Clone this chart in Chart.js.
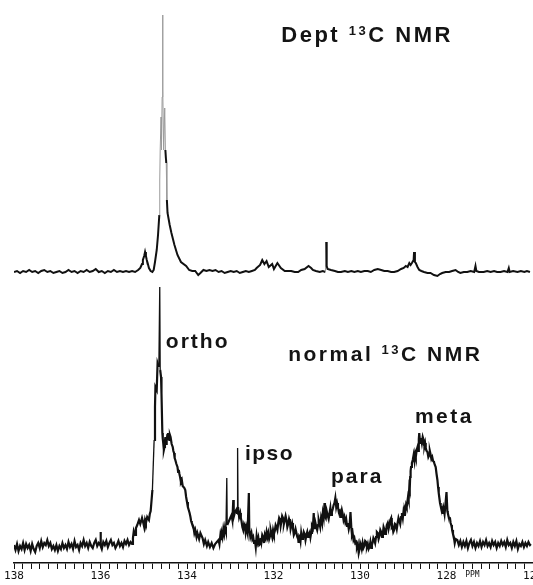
<!DOCTYPE html>
<html>
<head>
<meta charset="utf-8">
<script src="https://cdn.jsdelivr.net/npm/chart.js@4.4.0/dist/chart.umd.min.js"></script>
<style>
  html, body { margin: 0; padding: 0; background: #fff; }
  #wrap { width: 533px; height: 585px; position: relative; }
</style>
</head>
<body>
<div id="wrap"><canvas id="nmrChart"></canvas></div>
<script>
// readings: [ppm, intensity above baseline]
const normalSpectrum = [
  [138.000, 2], [137.965, -3], [137.930, 3], [137.895, -4], [137.860, 1], [137.825, -2], [137.790, 4], [137.755, -3],
  [137.720, 3], [137.685, -1], [137.650, 2], [137.615, -4], [137.580, 3], [137.545, -2], [137.510, -5], [137.475, 1],
  [137.440, 4], [137.405, -1], [137.370, 6], [137.335, 0], [137.300, 4], [137.265, 2], [137.230, 7], [137.195, 1],
  [137.160, 4], [137.125, -2], [137.090, 1], [137.055, -3], [137.020, 2], [136.985, -4], [136.950, 1], [136.915, -2],
  [136.880, 4], [136.845, -1], [136.810, 2], [136.775, -2], [136.740, 5], [136.705, 0], [136.670, 3], [136.635, -2],
  [136.600, 6], [136.565, 0], [136.530, 2], [136.495, -3], [136.460, 4], [136.425, 1], [136.390, 7], [136.355, 1],
  [136.320, 4], [136.285, -1], [136.250, 5], [136.215, 1], [136.180, -1], [136.145, 4], [136.110, 7], [136.075, 1],
  [136.040, 4], [136.010, 2], [136.000, 15], [135.990, 1], [135.970, -2], [135.935, 5], [135.900, 2], [135.865, 6],
  [135.830, 0], [135.795, 4], [135.760, 7], [135.725, 2], [135.690, 4], [135.655, -1], [135.620, 2], [135.585, 6],
  [135.550, 1], [135.515, 4], [135.480, 0], [135.445, 6], [135.410, 3], [135.375, 7], [135.340, 2], [135.305, 5],
  [135.270, 3], [135.250, 9], [135.230, 16], [135.200, 12], [135.180, 19], [135.150, 22], [135.110, 27], [135.080, 23],
  [135.040, 29], [135.010, 24], [134.990, 20], [134.970, 27], [134.950, 24], [134.920, 30], [134.880, 27], [134.860, 33],
  [134.840, 36], [134.80, 57], [134.76, 107], [134.74, 140], [134.73, 160], [134.70, 157], [134.68, 184], [134.65, 180],
  [134.63, 260], [134.62, 177], [134.60, 170], [134.59, 154], [134.57, 114], [134.56, 108], [134.55, 104], [134.535, 97],
  [134.52, 100], [134.51, 106], [134.50, 110], [134.485, 103], [134.47, 106], [134.455, 112], [134.44, 114], [134.425, 108],
  [134.41, 107], [134.395, 112], [134.38, 110], [134.355, 103], [134.33, 100], [134.315, 96], [134.30, 94], [134.285, 89],
  [134.27, 87], [134.245, 83], [134.22, 80], [134.205, 75], [134.19, 77], [134.175, 73], [134.16, 70], [134.14, 65],
  [134.12, 67], [134.10, 61], [134.08, 60], [134.06, 59], [134.04, 57], [134.02, 50], [134.00, 45], [133.98, 40],
  [133.96, 37], [133.94, 34], [133.92, 30], [133.905, 26], [133.89, 24], [133.87, 22], [133.85, 20], [133.83, 14],
  [133.81, 17], [133.78, 10], [133.76, 14], [133.72, 8], [133.69, 14], [133.64, 9], [133.61, 3], [133.58, 7],
  [133.54, 1], [133.51, 5], [133.47, 0], [133.43, 4], [133.39, -1], [133.35, 3], [133.31, 5], [133.27, 7],
  [133.25, 3], [133.23, 11], [133.215, 7], [133.20, 14], [133.18, 10], [133.16, 18], [133.14, 13], [133.12, 20],
  [133.10, 16], [133.08, 69], [133.07, 22], [133.04, 25], [133.00, 29], [132.97, 32], [132.95, 27], [132.93, 47],
  [132.92, 30], [132.89, 35], [132.85, 38], [132.84, 33], [132.83, 99], [132.82, 40], [132.795, 30], [132.77, 34],
  [132.755, 29], [132.74, 26], [132.72, 20], [132.70, 17], [132.68, 23], [132.66, 21], [132.645, 15], [132.63, 20],
  [132.60, 14], [132.57, 54], [132.56, 18], [132.535, 10], [132.51, 14], [132.49, 8], [132.47, 10], [132.45, 4],
  [132.43, 7], [132.41, 0], [132.39, 11], [132.37, 5], [132.35, 9], [132.33, 2], [132.31, 3], [132.295, 9],
  [132.28, 5], [132.26, 12], [132.24, 10], [132.22, 4], [132.20, 12], [132.18, 9], [132.16, 15], [132.14, 10],
  [132.12, 14], [132.10, 8], [132.08, 11], [132.065, 17], [132.05, 14], [132.03, 10], [132.01, 17], [131.99, 13],
  [131.97, 16], [131.95, 22], [131.93, 20], [131.91, 17], [131.89, 24], [131.87, 29], [131.85, 27], [131.835, 21],
  [131.82, 25], [131.80, 31], [131.78, 29], [131.76, 23], [131.74, 27], [131.72, 31], [131.70, 27], [131.68, 20],
  [131.66, 23], [131.64, 28], [131.62, 25], [131.605, 18], [131.59, 21], [131.57, 24], [131.55, 19], [131.53, 12],
  [131.51, 14], [131.49, 18], [131.47, 14], [131.45, 10], [131.43, 8], [131.42, 4], [131.405, 11], [131.39, 10],
  [131.375, 6], [131.36, 14], [131.34, 8], [131.32, 9], [131.30, 15], [131.28, 13], [131.26, 7], [131.24, 12],
  [131.22, 15], [131.20, 10], [131.18, 13], [131.16, 15], [131.145, 10], [131.13, 14], [131.11, 21], [131.09, 19],
  [131.07, 34], [131.05, 18], [131.03, 24], [131.01, 20], [130.99, 17], [130.97, 22], [130.955, 27], [130.94, 24],
  [130.92, 20], [130.90, 29], [130.88, 25], [130.86, 34], [130.84, 29], [130.82, 44], [130.81, 31], [130.79, 29],
  [130.77, 36], [130.75, 32], [130.725, 28], [130.70, 35], [130.685, 39], [130.67, 32], [130.65, 35], [130.63, 38],
  [130.61, 42], [130.59, 44], [130.57, 49], [130.55, 40], [130.53, 44], [130.51, 40], [130.49, 35], [130.47, 36],
  [130.455, 30], [130.44, 32], [130.42, 37], [130.40, 33], [130.38, 27], [130.36, 30], [130.34, 25], [130.32, 28],
  [130.30, 21], [130.28, 24], [130.26, 18], [130.24, 22], [130.22, 35], [130.20, 19], [130.185, 12], [130.17, 14],
  [130.15, 7], [130.13, 9], [130.11, 4], [130.09, 5], [130.07, 0], [130.05, 3], [130.03, -6], [130.01, -2],
  [129.995, 4], [129.98, 2], [129.96, -2], [129.94, 4], [129.92, -1], [129.90, 1], [129.88, 6], [129.86, 5],
  [129.84, 0], [129.82, 3], [129.80, -2], [129.78, 0], [129.76, 5], [129.74, -1], [129.725, 2], [129.71, 4],
  [129.69, 9], [129.67, 7], [129.65, 4], [129.63, 10], [129.61, 15], [129.59, 14], [129.57, 8], [129.55, 11],
  [129.53, 17], [129.51, 15], [129.49, 10], [129.47, 14], [129.455, 20], [129.44, 18], [129.42, 13], [129.40, 16],
  [129.38, 22], [129.36, 24], [129.34, 18], [129.32, 22], [129.30, 27], [129.28, 29], [129.265, 20], [129.25, 21],
  [129.23, 15], [129.21, 17], [129.19, 23], [129.17, 22], [129.15, 18], [129.13, 24], [129.11, 29], [129.09, 26],
  [129.07, 23], [129.05, 30], [129.03, 34], [129.01, 29], [128.995, 35], [128.98, 32], [128.965, 38], [128.95, 36],
  [128.935, 42], [128.92, 40], [128.89, 50], [128.875, 47], [128.86, 60], [128.85, 58], [128.84, 70], [128.83, 76],
  [128.82, 80], [128.80, 84], [128.78, 87], [128.76, 92], [128.74, 86], [128.725, 93], [128.71, 90], [128.69, 97],
  [128.67, 100], [128.655, 96], [128.64, 108], [128.63, 114], [128.61, 104], [128.59, 109], [128.57, 104], [128.55, 110],
  [128.53, 107], [128.52, 102], [128.51, 101], [128.495, 104], [128.48, 99], [128.46, 96], [128.44, 95], [128.42, 90],
  [128.40, 92], [128.385, 96], [128.37, 93], [128.35, 88], [128.33, 90], [128.31, 86], [128.29, 85], [128.27, 82],
  [128.25, 80], [128.23, 73], [128.21, 67], [128.195, 60], [128.18, 54], [128.165, 49], [128.15, 44], [128.135, 41],
  [128.12, 40], [128.10, 34], [128.09, 37], [128.075, 40], [128.06, 37], [128.045, 33], [128.03, 40], [128.00, 55],
  [127.98, 36], [127.97, 34], [127.95, 30], [127.92, 29], [127.905, 24], [127.89, 22], [127.875, 19], [127.87, 17],
  [127.85, 13], [127.83, 10], [127.81, 4], [127.79, 8], [127.750, 7], [127.715, 2], [127.680, 6], [127.645, 0],
  [127.610, 5], [127.575, 1], [127.540, 6], [127.505, -1], [127.470, 4], [127.435, 7], [127.400, 1], [127.365, 5],
  [127.330, -1], [127.295, 4], [127.260, 1], [127.225, 6], [127.190, 0], [127.155, 5], [127.120, 2], [127.085, 7],
  [127.050, 1], [127.015, 4], [126.980, 0], [126.945, 6], [126.910, 2], [126.875, 5], [126.840, -1], [126.805, 4],
  [126.770, 1], [126.735, 6], [126.700, 2], [126.665, 5], [126.630, 0], [126.595, 7], [126.560, 2], [126.525, 4],
  [126.490, -1], [126.455, 5], [126.420, 1], [126.385, 6], [126.350, -2], [126.315, 3], [126.280, 1], [126.245, 5],
  [126.210, 0], [126.175, 4], [126.140, 1], [126.105, 5], [126.070, 2], [126.050, 3]
];

const deptSpectrum = [
  [138.00, 0], [137.93, 1], [137.86, -1], [137.79, 1], [137.72, 0], [137.65, 2], [137.58, 0], [137.51, 1],
  [137.44, -1], [137.37, 1], [137.30, 2], [137.23, 0], [137.16, 1], [137.09, -1], [137.02, 0], [136.95, 1],
  [136.88, -1], [136.81, 0], [136.74, 2], [136.67, 0], [136.60, 1], [136.53, -1], [136.46, 1], [136.39, 0],
  [136.32, 2], [136.25, 0], [136.18, 1], [136.11, 3], [136.04, 0], [135.97, 1], [135.90, -1], [135.83, 1],
  [135.76, 0], [135.69, 2], [135.62, 0], [135.55, 1], [135.48, 0], [135.41, 1], [135.34, 0], [135.27, 1],
  [135.20, 0], [135.13, 2], [135.08, 4], [135.04, 8], [135.02, 12], [134.99, 16], [134.97, 20], [134.95, 16],
  [134.93, 12], [134.91, 9], [134.88, 4], [134.84, 1], [134.80, 0], [134.77, 2], [134.74, 10], [134.70, 22],
  [134.67, 37], [134.64, 57], [134.63, 92], [134.62, 122], [134.60, 155], [134.59, 122], [134.575, 175], [134.565, 257],
  [134.555, 182], [134.54, 122], [134.515, 164], [134.50, 122], [134.48, 109], [134.465, 72], [134.45, 59], [134.40, 47],
  [134.36, 39], [134.29, 27], [134.22, 17], [134.14, 10], [134.02, 6], [133.95, 2], [133.88, 1], [133.81, 1],
  [133.74, -3], [133.69, -1], [133.62, 2], [133.55, 1], [133.48, 2], [133.41, 1], [133.34, 2], [133.27, 0],
  [133.20, 1], [133.13, -1], [133.06, 0], [132.99, 1], [132.92, 0], [132.85, 1], [132.78, -1], [132.71, 0],
  [132.64, 1], [132.57, 0], [132.50, 1], [132.43, 2], [132.39, 4], [132.31, 7], [132.26, 12], [132.21, 8],
  [132.16, 11], [132.11, 5], [132.03, 8], [131.99, 3], [131.91, 9], [131.83, 4], [131.74, 1], [131.66, 1],
  [131.59, 1], [131.51, 0], [131.43, 0], [131.36, 2], [131.28, 3], [131.19, 6], [131.13, 4], [131.09, 2],
  [131.02, 1], [130.93, 0], [130.86, 1], [130.80, 0], [130.78, 30], [130.77, 6], [130.75, 3], [130.67, 2],
  [130.58, 1], [130.51, 0], [130.44, 0], [130.35, 1], [130.28, 0], [130.20, 1], [130.13, 0], [130.05, 1],
  [129.98, 0], [129.90, 1], [129.82, 1], [129.75, 0], [129.67, 2], [129.59, 3], [129.51, 2], [129.44, 1],
  [129.36, 1], [129.28, 0], [129.21, 0], [129.13, 1], [129.05, 3], [128.99, 4], [128.94, 6], [128.90, 5],
  [128.86, 9], [128.83, 7], [128.80, 9], [128.76, 12], [128.75, 20], [128.73, 10], [128.71, 9], [128.67, 5],
  [128.63, 2], [128.58, 1], [128.52, 0], [128.44, -1], [128.37, -1], [128.29, -3], [128.21, -4], [128.15, -2],
  [128.10, -1], [128.02, 0], [127.94, 0], [127.87, 1], [127.79, 2], [127.73, 0], [127.68, -1], [127.60, 0],
  [127.52, 0], [127.44, 1], [127.36, 0], [127.33, 6], [127.31, 1], [127.25, 0], [127.14, 0], [127.06, 1],
  [126.98, 0], [126.90, 1], [126.83, 0], [126.75, 0], [126.67, 1], [126.59, 0], [126.56, 4], [126.54, 0],
  [126.46, 1], [126.36, 0], [126.28, 1], [126.20, 0], [126.14, 1], [126.07, 0]
];

const majorTicks = [138, 136, 134, 132, 130, 128, 126];
const unitLabel = 'PPM';
const unitTick = 127.4;

// baseline heights of the two traces on the (hidden) y scale
const normalBase = 16;
const deptBase = 291;

const textLabels = [
  { ppm: 131.82, level: 521.5, spacing: 2.5, parts: [{ text: 'Dept ', size: 22 }, { text: '13', size: 13, rise: 7 }, { text: 'C NMR', size: 22 }] },
  { ppm: 131.66, level: 202, spacing: 2.5, parts: [{ text: 'normal ', size: 21 }, { text: '13', size: 13, rise: 7 }, { text: 'C NMR', size: 21 }] },
  { ppm: 134.49, level: 215, spacing: 2, parts: [{ text: 'ortho', size: 21 }] },
  { ppm: 132.66, level: 103, spacing: 1.5, parts: [{ text: 'ipso', size: 21 }] },
  { ppm: 130.67, level: 80, spacing: 2, parts: [{ text: 'para', size: 21 }] },
  { ppm: 128.73, level: 140, spacing: 2.5, parts: [{ text: 'meta', size: 21 }] }
];

const textPlugin = {
  id: 'nmrText',
  afterDatasetsDraw(chart) {
    const { ctx, scales: { x, y } } = chart;
    ctx.save();
    ctx.fillStyle = '#141414';
    ctx.textAlign = 'left';
    ctx.textBaseline = 'alphabetic';
    textLabels.forEach(l => {
      let px = x.getPixelForValue(l.ppm);
      const py = y.getPixelForValue(l.level);
      l.parts.forEach(p => {
        ctx.font = 'bold ' + p.size + 'px "Liberation Sans", Arial, sans-serif';
        ctx.letterSpacing = l.spacing + 'px';
        ctx.fillText(p.text, px, py - (p.rise || 0));
        px += ctx.measureText(p.text).width;
      });
    });
    ctx.restore();
  }
};

const steep = (ctx) => Math.abs(ctx.p1.y - ctx.p0.y) > 25;

const ctx = document.getElementById('nmrChart').getContext('2d');
new Chart(ctx, {
  type: 'line',
  data: {
    datasets: [
      {
        label: 'normal 13C NMR',
        data: normalSpectrum.map(([ppm, v]) => ({ x: ppm, y: v + normalBase })),
        borderColor: '#111',
        borderWidth: 2.2,
        pointRadius: 0,
        tension: 0,
        segment: {
          borderWidth: c => Math.abs(c.p1.y - c.p0.y) > 40 ? 1.3 : 2.2
        }
      },
      {
        label: 'Dept 13C NMR',
        data: deptSpectrum.map(([ppm, v]) => ({ x: ppm, y: v + deptBase })),
        borderColor: '#111',
        borderWidth: 2,
        pointRadius: 0,
        tension: 0,
        segment: {
          borderColor: c => steep(c) ? '#9a9a9a' : '#111',
          borderWidth: c => steep(c) ? 1 : 2
        }
      }
    ]
  },
  options: {
    responsive: true,
    maintainAspectRatio: false,
    animation: false,
    layout: {
      autoPadding: false,
      padding: { left: 14, right: -3, top: 0, bottom: 0 }
    },
    plugins: {
      legend: { display: false },
      tooltip: { enabled: false }
    },
    scales: {
      x: {
        type: 'linear',
        reverse: true,
        min: 126,
        max: 138,
        afterFit: (axis) => {
          axis.height = 22;
          axis.paddingLeft = 0;
          axis.paddingRight = 0;
        },
        grid: {
          drawOnChartArea: false,
          drawTicks: true,
          tickLength: 6,
          color: '#111',
          lineWidth: 1
        },
        border: { display: true, color: '#111', width: 1.5 },
        ticks: {
          stepSize: 0.2,
          autoSkip: false,
          maxRotation: 0,
          padding: 1,
          color: '#111',
          font: (c) => (c.tick && Math.abs(c.tick.value - unitTick) < 0.01)
            ? { family: '"DejaVu Sans Mono", monospace', size: 8 }
            : { family: '"DejaVu Sans Mono", monospace', size: 11 },
          callback: (value) => {
            const r = Math.round(value * 10) / 10;
            if (majorTicks.includes(r)) return String(r);
            if (Math.abs(r - unitTick) < 0.01) return unitLabel;
            return '';
          }
        }
      },
      y: {
        display: false,
        min: 0,
        max: 563
      }
    }
  },
  plugins: [textPlugin]
});
</script>
</body>
</html>
